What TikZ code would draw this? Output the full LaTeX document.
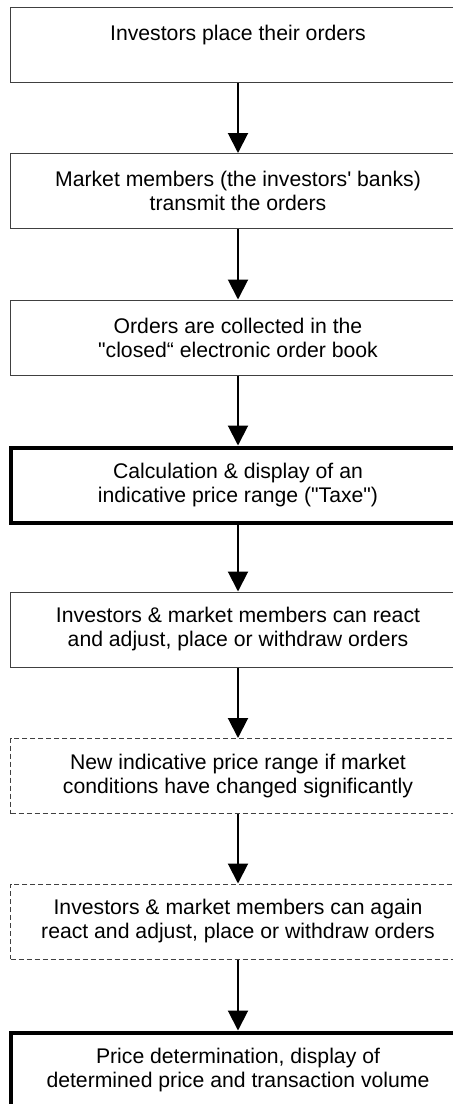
\documentclass[tikz,border=0pt]{standalone}
\usepackage{fontspec}
\setmainfont{Liberation Sans}[Ligatures=TeXOff]
\usetikzlibrary{arrows.meta}

\begin{document}
\begin{tikzpicture}[x=0.5pt,y=0.5pt,
		box/.style={draw=black!75,line width=0.5pt,minimum width=227.5pt,minimum height=37.5pt,inner sep=0pt,align=center,font=\fontsize{10.6}{12}\selectfont},
		thickbox/.style={box,draw=black,line width=2pt},
		dashbox/.style={box,dash pattern=on 2.5pt off 1.5pt},
		flow/.style={line width=1pt,-{Triangle[width=10pt,length=10pt]}}]
	\useasboundingbox (0,0) rectangle (453,-1104);
	\clip (0,0) rectangle (453,-1104);
	\node [box] (place) at (238,-45) {Investors place their orders\\ ~};
	\node [box] (transmit) at (238,-191) {Market members (the investors' banks)\\ transmit the orders};
	\node [box] (collect) at (238,-337.5) {Orders are collected in the\\ "closed“ electronic order book};
	\node [thickbox] (taxe) at (238,-485) {Calculation \& display of an\\ indicative price range ("Taxe")};
	\node [box] (react) at (238,-629.5) {Investors \& market members can react\\ and adjust, place or withdraw orders};
	\node [dashbox] (newrange) at (238,-776) {New indicative price range if market\\ conditions have changed significantly};
	\node [dashbox] (again) at (238,-921.5) {Investors \& market members can again\\ react and adjust, place or withdraw orders};
	\node [thickbox] (price) at (238,-1070) {Price determination, display of\\ determined price and transaction volume};
	\draw [flow] (place) -- (transmit);
	\draw [flow] (transmit) -- (collect);
	\draw [flow] (collect) -- (taxe);
	\draw [flow] (taxe) -- (react);
	\draw [flow] (react) -- (newrange);
	\draw [flow] (newrange) -- (again);
	\draw [flow] (again) -- (price);
\end{tikzpicture}
\end{document}
